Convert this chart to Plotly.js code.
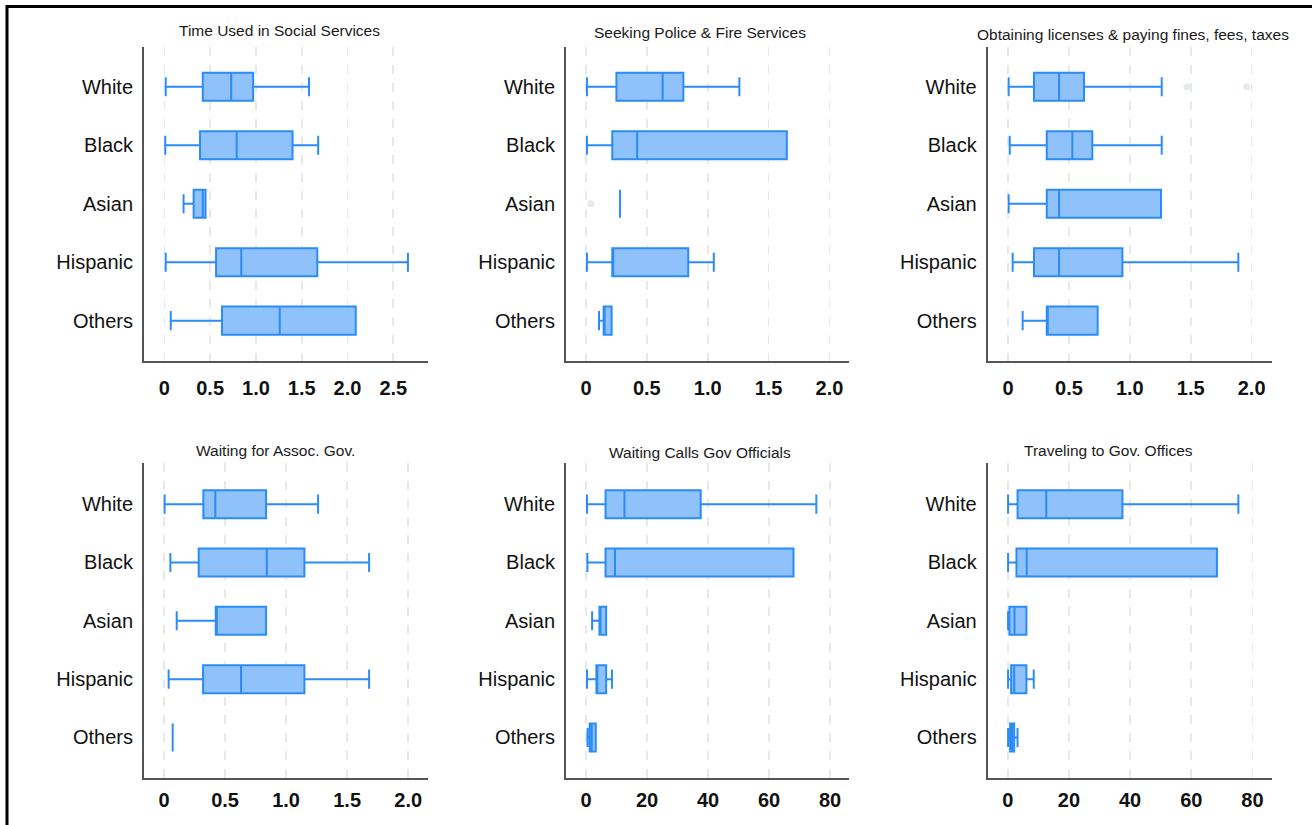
<!DOCTYPE html>
<html>
<head>
<meta charset="utf-8">
<script src="https://cdn.plot.ly/plotly-3.0.1.min.js"></script>
<style>html,body{margin:0;padding:0;background:#fff;}#chart{width:1312px;height:825px;}</style>
</head>
<body>
<div id="chart"></div>
<script>
// ---------- DATA ----------
const categories = ['White', 'Black', 'Asian', 'Hispanic', 'Others'];

const panelTitles = [
  'Time Used in Social Services',
  'Seeking Police & Fire Services',
  'Obtaining licenses & paying fines, fees, taxes',
  'Waiting for Assoc. Gov.',
  'Waiting Calls Gov Officials',
  'Traveling to Gov. Offices'
];

// Time Used in Social Services
const socialLow  = [0.015, 0.01, 0.21, 0.015, 0.07];
const socialQ1   = [0.42, 0.39, 0.32, 0.565, 0.63];
const socialMed  = [0.73, 0.79, 0.42, 0.84, 1.26];
const socialQ3   = [0.97, 1.40, 0.45, 1.67, 2.09];
const socialHigh = [1.58, 1.68, 0.45, 2.66, 2.09];

// Seeking Police & Fire Services
const policeLow  = [0.008, 0.008, 0.28, 0.008, 0.107];
const policeQ1   = [0.25, 0.216, 0.28, 0.216, 0.145];
const policeMed  = [0.63, 0.42, 0.28, 0.216, 0.145];
const policeQ3   = [0.80, 1.65, 0.28, 0.84, 0.211];
const policeHigh = [1.26, 1.65, 0.28, 1.05, 0.211];
const policeOutCat = ['Asian'];
const policeOutVal = [0.04];

// Obtaining licenses & paying fines, fees, taxes
const licenseLow  = [0.005, 0.014, 0.005, 0.038, 0.12];
const licenseQ1   = [0.213, 0.318, 0.318, 0.213, 0.318];
const licenseMed  = [0.419, 0.528, 0.419, 0.419, 0.318];
const licenseQ3   = [0.624, 0.692, 1.256, 0.939, 0.736];
const licenseHigh = [1.262, 1.262, 1.256, 1.891, 0.736];
const licenseOutCat = ['White', 'White'];
const licenseOutVal = [1.47, 1.96];

// Waiting for Assoc. Gov.
const assocLow  = [0.005, 0.052, 0.104, 0.038, 0.071];
const assocQ1   = [0.322, 0.284, 0.424, 0.32, 0.071];
const assocMed  = [0.42, 0.842, 0.424, 0.631, 0.071];
const assocQ3   = [0.836, 1.15, 0.836, 1.15, 0.071];
const assocHigh = [1.262, 1.68, 0.836, 1.68, 0.071];

// Waiting Calls Gov Officials
const callsLow  = [0.33, 0.44, 2.0, 0.33, 0.5];
const callsQ1   = [6.4, 6.4, 4.4, 3.4, 1.2];
const callsMed  = [12.6, 9.5, 4.4, 3.4, 1.9];
const callsQ3   = [37.6, 68.0, 6.6, 6.6, 3.2];
const callsHigh = [75.5, 68.0, 6.6, 8.5, 3.2];

// Traveling to Gov. Offices
const travelLow  = [0.1, 0.1, 0.1, 0.1, 0.1];
const travelQ1   = [3.2, 2.84, 0.55, 1.1, 0.77];
const travelMed  = [12.6, 6.2, 2.2, 2.1, 1.4];
const travelQ3   = [37.5, 68.4, 6.1, 6.1, 2.1];
const travelHigh = [75.4, 68.4, 6.1, 8.5, 3.2];

// Tick values / labels
const tickValsA = [0, 0.5, 1, 1.5, 2, 2.5];
const tickTextA = ['0', '0.5', '1.0', '1.5', '2.0', '2.5'];
const tickValsB = [0, 0.5, 1, 1.5, 2];
const tickTextB = ['0', '0.5', '1.0', '1.5', '2.0'];
const tickValsC = [0, 20, 40, 60, 80];
const tickTextC = ['0', '20', '40', '60', '80'];

// ---------- LAYOUT GEOMETRY (pixels) ----------
const W = 1312, H = 825;
const px = v => v / W;
const py = v => 1 - v / H;

const panels = [
  {low: socialLow, q1: socialQ1, med: socialMed, q3: socialQ3, high: socialHigh,
   x0: 144, x1: 428, y0: 47, y1: 361, range: [-0.222, 2.879], tv: tickValsA, tt: tickTextA,
   tx: 279, ty: 30, yr: [4.69, -0.68], tl: 8},
  {low: policeLow, q1: policeQ1, med: policeMed, q3: policeQ3, high: policeHigh,
   x0: 566, x1: 849.3, y0: 47, y1: 361, range: [-0.164, 2.163], tv: tickValsB, tt: tickTextB,
   tx: 700.3, ty: 32.3, yr: [4.69, -0.68], tl: 8, outCat: policeOutCat, outVal: policeOutVal},
  {low: licenseLow, q1: licenseQ1, med: licenseMed, q3: licenseQ3, high: licenseHigh,
   x0: 987.7, x1: 1271.7, y0: 47, y1: 361, range: [-0.167, 2.165], tv: tickValsB, tt: tickTextB,
   tx: 1133.3, ty: 34, yr: [4.69, -0.68], tl: 8, outCat: licenseOutCat, outVal: licenseOutVal},
  {low: assocLow, q1: assocQ1, med: assocMed, q3: assocQ3, high: assocHigh,
   x0: 144, x1: 427.7, y0: 463.3, y1: 778.3, range: [-0.164, 2.16], tv: tickValsB, tt: tickTextB,
   tx: 275.3, ty: 450.7, yr: [4.7, -0.7], tl: 3},
  {low: callsLow, q1: callsQ1, med: callsMed, q3: callsQ3, high: callsHigh,
   x0: 566, x1: 849.3, y0: 463.3, y1: 778.3, range: [-6.56, 86.3], tv: tickValsC, tt: tickTextC,
   tx: 700, ty: 452.7, yr: [4.7, -0.7], tl: 3},
  {low: travelLow, q1: travelQ1, med: travelMed, q3: travelQ3, high: travelHigh,
   x0: 987.7, x1: 1271.7, y0: 463.3, y1: 778.3, range: [-6.56, 86.3], tv: tickValsC, tt: tickTextC,
   tx: 1108.3, ty: 450.7, yr: [4.7, -0.7], tl: 3}
];

const boxFill = '#8fc1fb';
const boxLine = '#2b8cf7';
const outlierColor = '#e3ecea';

const data = [];
const layout = {
  width: W, height: H,
  margin: {l: 0, r: 0, t: 0, b: 0},
  paper_bgcolor: '#ffffff',
  plot_bgcolor: '#ffffff',
  showlegend: false,
  hovermode: false,
  font: {family: 'Liberation Sans, Arial, sans-serif', color: '#111'},
  annotations: [],
  shapes: [{
    type: 'rect', xref: 'paper', yref: 'paper',
    x0: px(7), x1: 1.02, y0: -0.02, y1: py(6.5),
    line: {color: '#000', width: 3}, fillcolor: 'rgba(0,0,0,0)', layer: 'above'
  }]
};

panels.forEach((p, i) => {
  const n = i + 1;
  const xa = n === 1 ? 'x' : 'x' + n;
  const ya = n === 1 ? 'y' : 'y' + n;
  data.push({
    type: 'box', orientation: 'h',
    y: categories,
    q1: p.q1, median: p.med, q3: p.q3,
    lowerfence: p.low, upperfence: p.high,
    xaxis: xa, yaxis: ya,
    width: 0.48, whiskerwidth: 0.68,
    fillcolor: boxFill,
    line: {color: boxLine, width: 2},
    boxpoints: false
  });
  if (p.outCat) {
    data.push({
      type: 'scatter', mode: 'markers',
      x: p.outVal, y: p.outCat,
      xaxis: xa, yaxis: ya,
      marker: {color: outlierColor, size: 7}
    });
  }
  const xKey = n === 1 ? 'xaxis' : 'xaxis' + n;
  const yKey = n === 1 ? 'yaxis' : 'yaxis' + n;
  layout[xKey] = {
    domain: [px(p.x0), px(p.x1)],
    anchor: ya,
    range: p.range,
    tickvals: p.tv, ticktext: p.tt,
    tickfont: {size: 20, family: 'Liberation Sans, Arial, sans-serif', color: '#111', weight: 'bold'},
    ticks: 'outside', ticklen: p.tl, tickcolor: 'rgba(0,0,0,0)',
    showgrid: true, gridcolor: '#e8e8e8', gridwidth: 1.6, griddash: 'dash',
    zeroline: false,
    showline: true, linecolor: '#555', linewidth: 2,
    fixedrange: true
  };
  layout[yKey] = {
    domain: [py(p.y1), py(p.y0)],
    anchor: xa,
    type: 'category',
    categoryorder: 'array', categoryarray: categories,
    range: p.yr,
    tickfont: {size: 20, family: 'Liberation Sans, Arial, sans-serif', color: '#111'},
    ticks: 'outside', ticklen: 5, tickcolor: 'rgba(0,0,0,0)',
    showgrid: false, zeroline: false,
    showline: true, linecolor: '#555', linewidth: 2,
    fixedrange: true
  };
  layout.annotations.push({
    text: panelTitles[i],
    xref: 'paper', yref: 'paper',
    x: px(p.tx), y: py(p.ty),
    xanchor: 'center', yanchor: 'middle',
    showarrow: false,
    font: {size: 15.5, family: 'Liberation Sans, Arial, sans-serif', color: '#1a1a1a'}
  });
});

Plotly.newPlot('chart', data, layout, {staticPlot: true, displayModeBar: false});
</script>
</body>
</html>
